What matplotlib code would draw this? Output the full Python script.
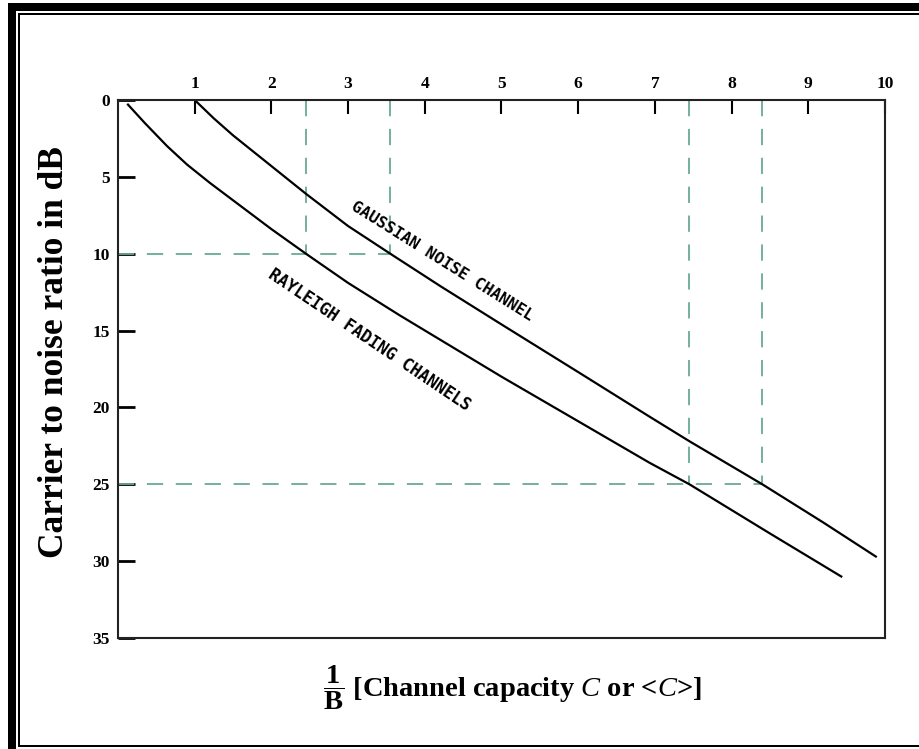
import matplotlib
matplotlib.use("Agg")
from matplotlib import pyplot as plt
from matplotlib.patches import Rectangle

# curves (x = 1/B, y = C/N in dB)
gaussian_x = [1.0, 1.25, 1.5, 2.0, 2.45, 3.0, 3.55, 4.2, 5.0, 6.0, 6.93, 7.45, 8.4, 9.2, 9.88]
gaussian_db = [0.0, 1.2, 2.3, 4.3, 6.1, 8.2, 10.0, 12.1, 14.6, 17.7, 20.6, 22.2, 25.0, 27.5, 29.7]
rayleigh_x = [0.13, 0.35, 0.64, 0.9, 1.2, 1.6, 2.0, 2.45, 3.0, 3.67, 5.0, 6.0, 6.93, 7.45, 8.5, 9.43]
rayleigh_db = [0.3, 1.5, 3.0, 4.2, 5.4, 6.9, 8.4, 10.0, 11.9, 14.0, 18.0, 20.9, 23.6, 25.0, 28.2, 31.0]

# dashed reading lines: dB level, rayleigh crossing, gaussian crossing
ref_levels = [10, 25]
ref_rayleigh = [2.45, 7.45]
ref_gaussian = [3.55, 8.4]

x_ticks = [1, 2, 3, 4, 5, 6, 7, 8, 9, 10]
y_ticks = [0, 5, 10, 15, 20, 25, 30, 35]

W, H = 920, 749
fig = plt.figure(figsize=(W / 100, H / 100), dpi=100)
fig.patch.set_facecolor("white")


def px_rect(x0, y0, x1, y1):
    # pixel box, origin top-left
    fig.add_artist(Rectangle((x0 / W, 1 - y1 / H), (x1 - x0) / W, (y1 - y0) / H,
                             transform=fig.transFigure, facecolor="black",
                             edgecolor="none"))


# page frame
px_rect(8, 3, 16, 749)
px_rect(8, 3, 920, 11)
px_rect(18, 13, 20, 747)
px_rect(18, 13, 920, 15)
px_rect(18, 745, 920, 747)

ax = fig.add_axes([118 / W, 1 - 638 / H, (885 - 118) / W, (638 - 100) / H])
ax.set_xlim(0, 10)
ax.set_ylim(35, 0)

dash_col = "#6aa898"
for lvl, xr, xg in zip(ref_levels, ref_rayleigh, ref_gaussian):
    ax.plot([0, xg], [lvl, lvl], color=dash_col, lw=1.3, dashes=(9, 7))
    ax.plot([xr, xr], [0, lvl], color=dash_col, lw=1.3, dashes=(9, 7))
    ax.plot([xg, xg], [0, lvl], color=dash_col, lw=1.3, dashes=(9, 7))

ax.plot(gaussian_x, gaussian_db, color="black", lw=1.6)
ax.plot(rayleigh_x, rayleigh_db, color="black", lw=1.6)

lab_font = dict(family="DejaVu Sans Mono", fontweight="bold", color="black",
                rotation_mode="anchor", ha="center", va="center")
ax.text(4.22, 10.5, "GAUSSIAN NOISE CHANNEL", fontsize=11.5, rotation=-32, **lab_font)
ax.text(3.28, 15.6, "RAYLEIGH FADING CHANNELS", fontsize=12, rotation=-34, **lab_font)

for s in ax.spines.values():
    s.set_linewidth(1.5)
    s.set_color("#222222")

ax.xaxis.tick_top()
ax.set_xticks(x_ticks)
ax.set_yticks(y_ticks)
ax.tick_params(axis="x", direction="in", length=10, width=1.5, pad=6)
ax.tick_params(axis="y", direction="in", length=12, width=2, pad=6)
for t in ax.get_xticklabels() + ax.get_yticklabels():
    t.set_fontfamily("Liberation Serif")
    t.set_fontweight("bold")
    t.set_fontsize(12.5)

fig.text(55 / W, 1 - 352 / H, "Carrier to noise ratio in dB", rotation=90,
         ha="center", va="center", family="Liberation Serif", fontweight="bold",
         fontsize=25.5)

plt.rcParams["mathtext.fontset"] = "custom"
plt.rcParams["mathtext.rm"] = "Liberation Serif"
plt.rcParams["mathtext.bf"] = "Liberation Serif:bold"
plt.rcParams["mathtext.it"] = "Liberation Serif:italic"
fig.text(323 / W, 1 - 688 / H,
         r"$\dfrac{\mathbf{1}}{\mathbf{B}}$ [Channel capacity $\mathit{C}$ or <$\mathit{C}$>]",
         ha="left", va="center", family="Liberation Serif", fontweight="bold",
         fontsize=20.5)

fig.savefig("out.png", dpi=100)
